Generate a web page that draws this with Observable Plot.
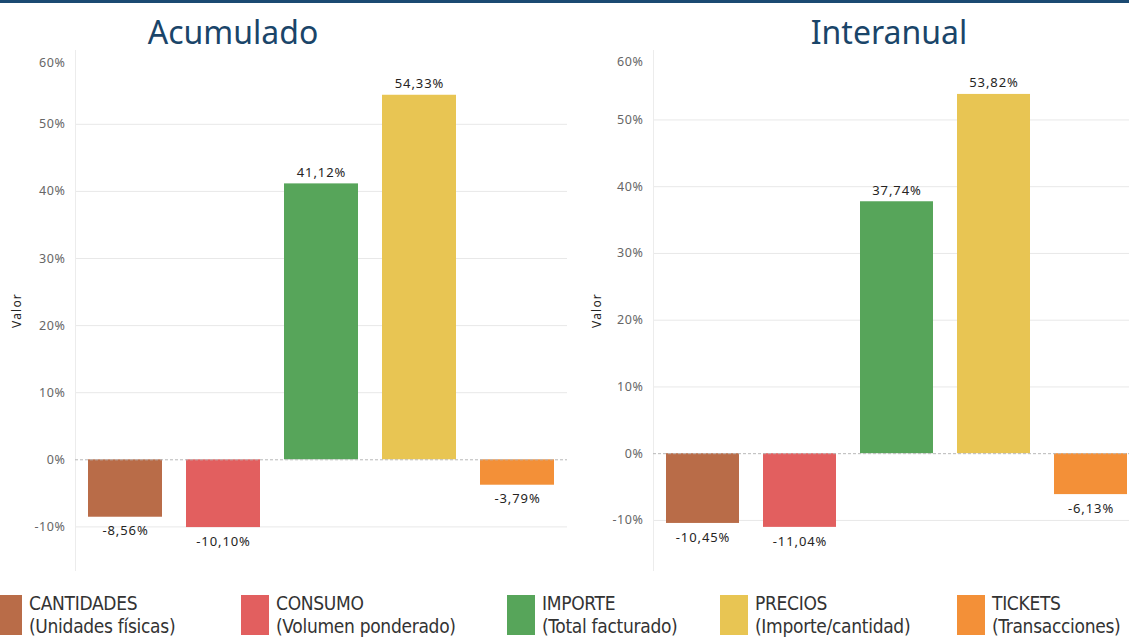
<!DOCTYPE html>
<html>
<head>
<meta charset="utf-8">
<script src="https://cdn.jsdelivr.net/npm/d3@7"></script>
<script src="https://cdn.jsdelivr.net/npm/@observablehq/plot@0.6"></script>
<style>
  html, body { margin: 0; padding: 0; background: #fff; overflow: hidden; }
  body { width: 1129px; height: 637px; position: relative; font-family: "Noto Sans", "Open Sans", sans-serif; }
  .topbar { position: absolute; left: 0; top: 0; width: 1129px; height: 3px; background: #1b4a72; }
  .title { position: absolute; top: 10px; font-size: 32px; color: #1a4569; font-family: "Noto Sans", sans-serif; text-align: center; }
  .chart { position: absolute; top: 0; }
  .chart svg { max-width: none !important; }
  .chart g[aria-label="text"] text { letter-spacing: 0.9px; }
  .chart g[aria-label="y-axis tick label"] text { letter-spacing: 0.6px; }
  .chart g[aria-label="y-axis label"] text { letter-spacing: 1.2px; }
  .legend-item { position: absolute; top: 595px; height: 42px; display: flex; align-items: flex-start; }
  .swatch { width: 28px; height: 40px; margin-right: 7px; }
  .legend-text { font-family: "Liberation Sans Narrow", "DejaVu Sans Condensed", "Liberation Sans", sans-serif; font-size: 19px; letter-spacing: -0.3px; color: #333; line-height: 23px; margin-top: -3px; white-space: nowrap; }
</style>
</head>
<body>
<div class="topbar"></div>
<div id="left" class="chart" style="left:0;width:580px"></div>
<div id="right" class="chart" style="left:580px;width:560px"></div>
<div class="title" style="left:75px;width:316px">Acumulado</div>
<div class="title" style="left:653px;width:472px">Interanual</div>
<div id="legend"></div>
<script>
const categorias = ["CANTIDADES", "CONSUMO", "IMPORTE", "PRECIOS", "TICKETS"];
const subtitulos = ["(Unidades físicas)", "(Volumen ponderado)", "(Total facturado)", "(Importe/cantidad)", "(Transacciones)"];
const acumulado = [-8.56, -10.10, 41.12, 54.33, -3.79];
const interanual = [-10.45, -11.04, 37.74, 53.82, -6.13];
const colores = ["#B96C48", "#E25F5F", "#57A55A", "#E8C553", "#F39038"];
const ticksY = [-10, 0, 10, 20, 30, 40, 50, 60];

const fmt = v => v.toFixed(2).replace(".", ",") + "%";

function chart(values, opts) {
  const data = categorias.map((c, i) => ({cat: c, v: values[i]}));
  const pos = data.filter(d => d.v >= 0);
  const neg = data.filter(d => d.v < 0);
  const font = "'Noto Sans', 'Open Sans', sans-serif";
  return Plot.plot({
    width: opts.width,
    height: 580,
    marginLeft: opts.marginLeft,
    marginRight: opts.marginRight,
    marginTop: 50,
    marginBottom: 10,
    style: {fontFamily: font, background: "transparent", overflow: "visible", maxWidth: "none"},
    x: {domain: categorias, paddingInner: 0.25, paddingOuter: 0.125, axis: null},
    y: {domain: opts.domain},
    color: {domain: categorias, range: colores},
    marks: [
      Plot.gridY(ticksY.filter(t => t !== 0 && t !== 60), {stroke: "#e8e8e8", strokeOpacity: 1}),
      Plot.frame({anchor: "left", stroke: "#ececec"}),
      Plot.barY(data, {x: "cat", y: "v", fill: "cat"}),
      Plot.ruleY([0], {stroke: "#b8b8b8", strokeDasharray: "3,2"}),
      Plot.text(pos, {x: "cat", y: "v", text: d => fmt(d.v), lineAnchor: "bottom", dy: -7, fontSize: 13, fill: "#252423"}),
      Plot.text(neg, {x: "cat", y: "v", text: d => fmt(d.v), lineAnchor: "top", dy: 9, fontSize: 13, fill: "#252423"}),
      Plot.axisY(ticksY.filter(t => t !== 60), {tickSize: 0, tickPadding: 10, tickFormat: d => d + "%", fontSize: 12.5, fill: "#666", label: null}),
      Plot.axisY([60], {tickSize: 0, tickPadding: 10, tickFormat: d => d + "%", fontSize: 12.5, fill: "#666", label: null, dy: opts.topDy}),
      Plot.axisY({ticks: [], tickSize: 0, label: "Valor", labelAnchor: "center", labelArrow: "none", labelOffset: opts.labelOffset, fontSize: 12, fill: "#252423"})
    ]
  });
}

document.getElementById("left").append(chart(acumulado, {width: 580, marginLeft: 75, marginRight: 13, domain: [-16.5, 61], topDy: 6, labelOffset: 63}));
document.getElementById("right").append(chart(interanual, {width: 560, marginLeft: 73, marginRight: 0, domain: [-17.5, 60.4], topDy: 9, labelOffset: 61}));

const legendLefts = [-6, 241, 507, 720, 957];
const legend = document.getElementById("legend");
categorias.forEach((c, i) => {
  const item = document.createElement("div");
  item.className = "legend-item";
  item.style.left = legendLefts[i] + "px";
  item.innerHTML = `<div class="swatch" style="background:${colores[i]}"></div><div class="legend-text">${c}<br>${subtitulos[i]}</div>`;
  legend.append(item);
});
</script>
</body>
</html>
